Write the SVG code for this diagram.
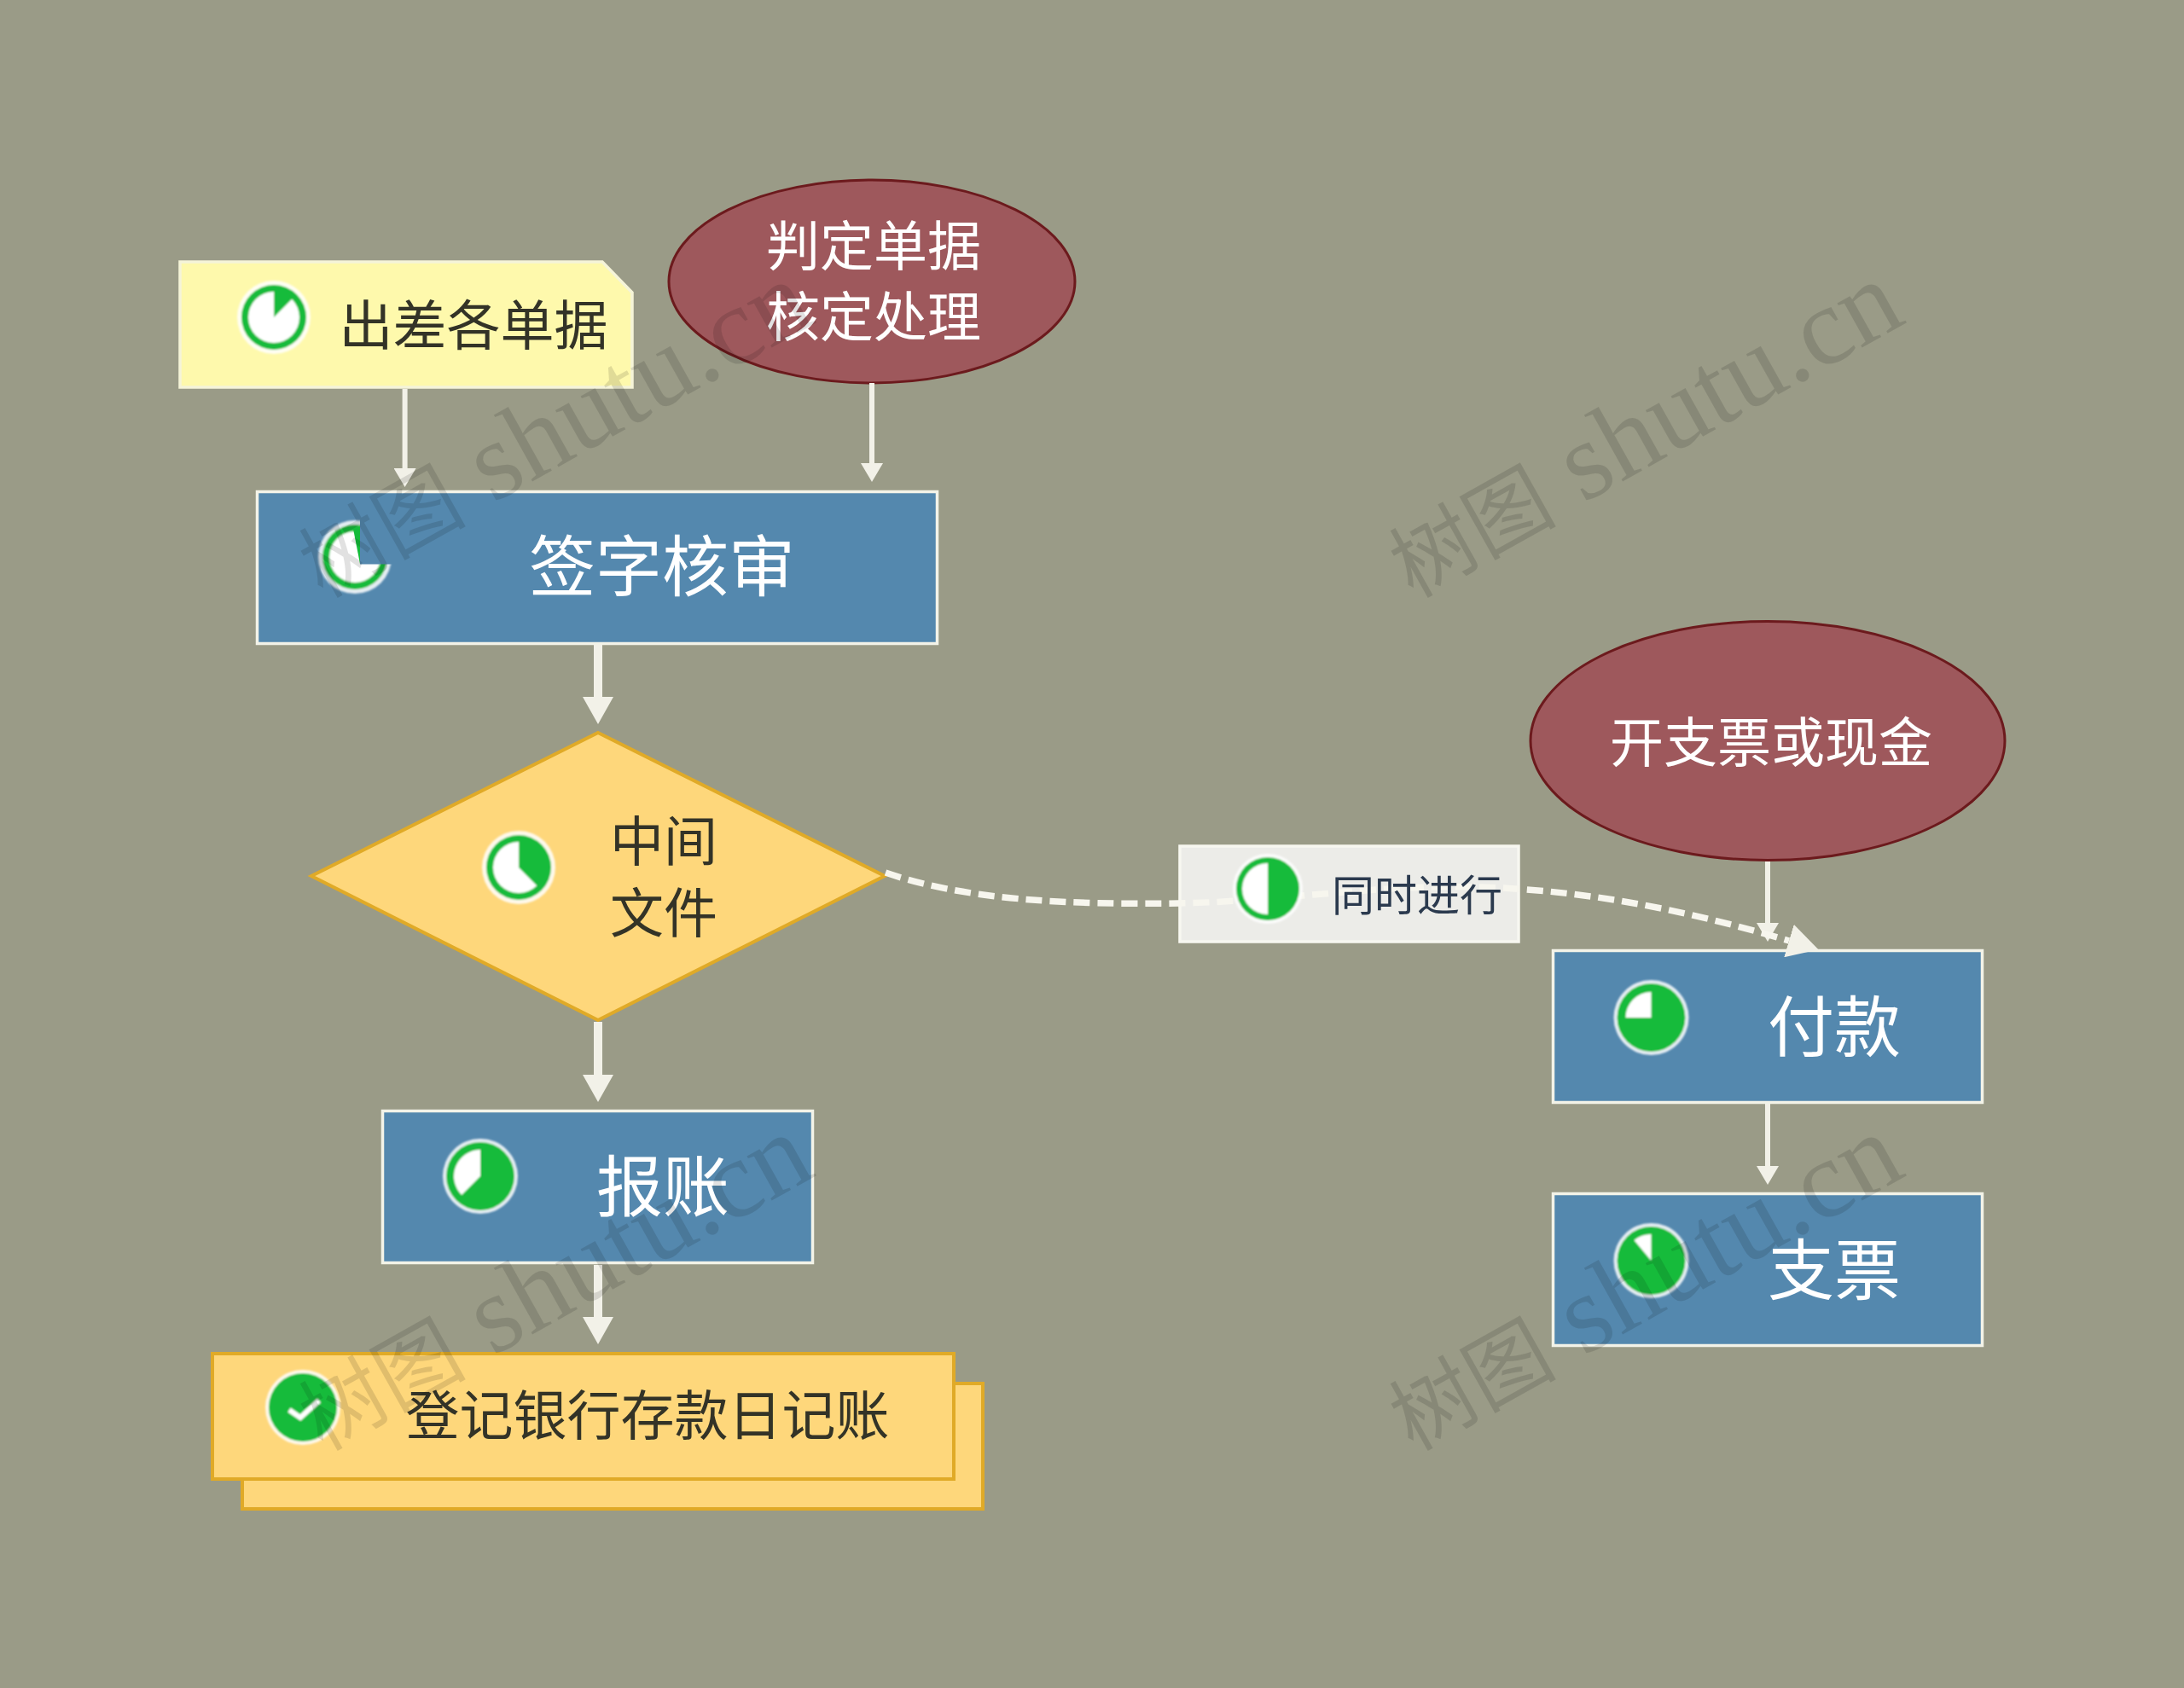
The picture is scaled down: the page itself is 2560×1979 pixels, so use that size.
<svg xmlns="http://www.w3.org/2000/svg" width="2560" height="1979" viewBox="0 0 2560 1979">
<style>
text{font-family:"Noto Sans CJK SC","Noto Sans",sans-serif;text-anchor:middle}
.w{fill:#fff}.d{fill:#333327}
.f63{font-size:63px}.f78{font-size:78px}.f50{font-size:50px;fill:#2b3a4e}
.task{fill:#5488ae;stroke:#f3f3e8;stroke-width:3.5}
.oval{fill:#9e585c;stroke:#6c1a1d;stroke-width:3}
.gold{fill:#fed77b;stroke:#e0aa27;stroke-width:4}
.halo{fill:#fff;opacity:.85}.grn{fill:#14bb3a}.wht{fill:#fff}
.ln{fill:none;stroke:#f2f1e8}
.wm{font-family:"Liberation Serif","Noto Sans CJK SC",serif;fill:#000;opacity:.115;text-anchor:start}
.wm .c{font-family:"Noto Sans CJK SC",serif;font-size:98px}
</style>
<defs>
<marker id="hs" markerUnits="userSpaceOnUse" markerWidth="22" markerHeight="26" refX="0" refY="13" orient="auto" viewBox="0 0 22 26"><path d="M0,0L22,13L0,26Z" fill="#f2f1e8"/></marker>
<marker id="hb" markerUnits="userSpaceOnUse" markerWidth="32" markerHeight="36" refX="0" refY="18" orient="auto" viewBox="0 0 32 36"><path d="M0,0L32,18L0,36Z" fill="#f2f1e8"/></marker>
<marker id="hc" markerUnits="userSpaceOnUse" markerWidth="36" markerHeight="40" refX="0" refY="20" orient="auto" viewBox="0 0 36 40"><path d="M0,0L36,20L0,40Z" fill="#f2f1e8"/></marker>
<filter id="soft" x="-10%" y="-10%" width="120%" height="120%"><feGaussianBlur stdDeviation="0.8"/></filter>
</defs>
<rect width="2560" height="1979" fill="#9a9b87"/>

<g id="node-label-box"><rect x="1383" y="992" width="397" height="112" fill="#ecece8" stroke="#f7f7f0" stroke-width="3.5"/></g>

<g id="node-note">
<path d="M211,307H706L741,343V454H211Z" fill="#fef9ac" stroke="#f5f4d8" stroke-width="3.5"/>
<g transform="translate(321,372)" filter="url(#soft)"><circle class="halo" r="43"/><circle class="grn" r="38"/><circle class="wht" r="30"/><path class="grn" d="M0,0L0,-31A31,31 0 0 1 21.9,-21.9Z"/></g>
<text class="d f63" x="555" y="404">出差各单据</text>
</g>

<g id="node-judge">
<ellipse class="oval" cx="1022" cy="330" rx="238" ry="119"/>
<text class="w f63" x="1024" y="311">判定单据</text>
<text class="w f63" x="1024" y="394">核定处理</text>
</g>

<g id="node-sign">
<rect class="task" x="301.5" y="576.5" width="797" height="178"/>
<g transform="translate(416,653)" filter="url(#soft)"><circle class="halo" r="43"/><circle class="grn" r="38"/><circle class="wht" r="30"/></g>
<path d="M422,600H470V661.6H422Z" fill="#5488ae"/>
<path class="grn" d="M422,661L414,620H422Z"/>
<text class="w f78" x="776" y="693">签字核审</text>
</g>

<g id="node-file">
<path class="gold" d="M701,859L1037,1027L701,1196L365,1027Z"/>
<g transform="translate(608,1017)" filter="url(#soft)"><circle class="halo" r="43"/><circle class="grn" r="38"/><circle class="wht" r="30"/><path class="grn" d="M0,0L0,-31A31,31 0 0 1 21.9,21.9Z"/></g>
<text class="d f63" x="778" y="1009">中间</text>
<text class="d f63" x="778" y="1093">文件</text>
</g>

<g id="node-reimburse">
<rect class="task" x="448.5" y="1302.5" width="504" height="178"/>
<g transform="translate(563,1379)" filter="url(#soft)"><circle class="halo" r="44"/><circle class="grn" r="40"/><path class="wht" d="M0,0L-21.9,21.9A31,31 0 0 1 0,-31Z"/></g>
<text class="w f78" x="777" y="1420">报账</text>
</g>

<g id="node-journal">
<rect class="gold" x="284" y="1622" width="868" height="147"/>
<rect class="gold" x="249" y="1587" width="869" height="147"/>
<g transform="translate(355,1650)" filter="url(#soft)"><circle class="halo" r="44"/><circle class="grn" r="40"/><path d="M-16,3L-3,12L19,-8" fill="none" stroke="#fff" stroke-width="6"/></g>
<text class="d f63" x="759" y="1682">登记银行存款日记账</text>
</g>

<g id="node-cheque-cash">
<ellipse class="oval" cx="2072" cy="868.5" rx="278" ry="140"/>
<text class="w f63" x="2076" y="893">开支票或现金</text>
</g>

<g id="node-pay">
<rect class="task" x="1820.5" y="1114.5" width="503" height="178"/>
<g transform="translate(1935.5,1193)" filter="url(#soft)"><circle class="halo" r="44"/><circle class="grn" r="40"/><path class="wht" d="M0,0L-30,0A30,30 0 0 1 0,-30Z"/></g>
<text class="w f78" x="2150" y="1233">付款</text>
</g>

<g id="node-cheque">
<rect class="task" x="1820.5" y="1399.5" width="503" height="178"/>
<g transform="translate(1935.5,1478)" filter="url(#soft)"><circle class="halo" r="44"/><circle class="grn" r="40"/><path class="wht" d="M0,0L-20,-24A31,31 0 0 1 0,-31Z"/></g>
<text class="w f78" x="2150" y="1518">支票</text>
</g>

<g id="connectors">
<path class="ln" stroke-width="6" marker-end="url(#hs)" d="M474.6,456V549"/>
<path class="ln" stroke-width="6" marker-end="url(#hs)" d="M1022,449V543"/>
<path class="ln" stroke-width="10" marker-end="url(#hb)" d="M701,756V817"/>
<path class="ln" stroke-width="10" marker-end="url(#hb)" d="M701,1198V1260"/>
<path class="ln" stroke-width="10" marker-end="url(#hb)" d="M701,1483V1544"/>
<path class="ln" stroke-width="6" marker-end="url(#hs)" d="M2072,1010V1082"/>
<path class="ln" stroke-width="6" marker-end="url(#hs)" d="M2072,1294V1367"/>
<path fill="none" stroke="#f7f6ee" stroke-width="7.5" stroke-dasharray="19 9" marker-end="url(#hc)" d="M1038,1023C1130,1055 1250,1061 1382,1059C1500,1057 1620,1036 1735,1040C1870,1044 1990,1071 2097,1103"/>
</g>

<g id="node-label">
<g transform="translate(1486,1042)" filter="url(#soft)"><circle class="halo" r="41"/><circle class="grn" r="37"/><path class="wht" d="M0,-30A30,30 0 0 0 0,30Z"/></g>
<text class="f50" x="1661" y="1068">同时进行</text>
</g>

<g id="watermarks">
<text class="wm" font-size="130" transform="translate(378,702) rotate(-29.2)"><tspan class="c">树图</tspan> shutu.cn</text>
<text class="wm" font-size="130" transform="translate(1656,702) rotate(-29.2)"><tspan class="c">树图</tspan> shutu.cn</text>
<text class="wm" font-size="130" transform="translate(378,1702) rotate(-29.2)"><tspan class="c">树图</tspan> shutu.cn</text>
<text class="wm" font-size="130" transform="translate(1656,1702) rotate(-29.2)"><tspan class="c">树图</tspan> shutu.cn</text>
</g>
</svg>
